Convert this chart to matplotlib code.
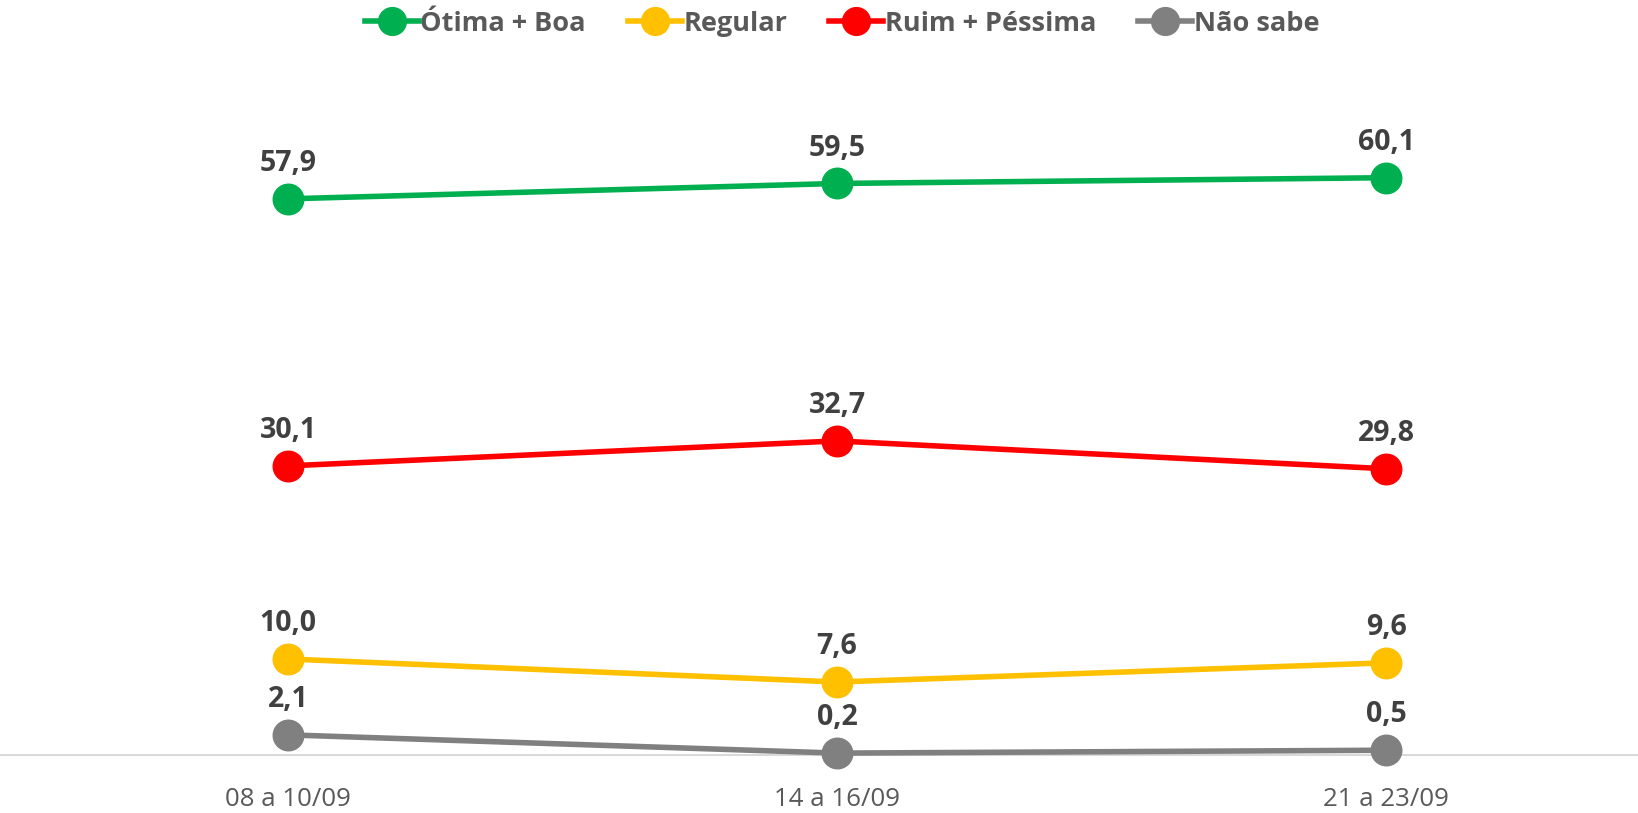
import matplotlib
matplotlib.use("Agg")
import matplotlib.pyplot as plt
from matplotlib.lines import Line2D

plt.rcParams['font.family'] = ['Open Sans', 'DejaVu Sans']

# dados
periodos = ["08 a 10/09", "14 a 16/09", "21 a 23/09"]
otima_boa = [57.9, 59.5, 60.1]
regular = [10.0, 7.6, 9.6]
ruim_pessima = [30.1, 32.7, 29.8]
nao_sabe = [2.1, 0.2, 0.5]

series = [
    ("Ótima + Boa", otima_boa, "#00B050"),
    ("Regular", regular, "#FFC000"),
    ("Ruim + Péssima", ruim_pessima, "#FF0000"),
    ("Não sabe", nao_sabe, "#808080"),
]

fig = plt.figure(figsize=(16.38, 8.13), dpi=100)
ax = fig.add_axes([0, 0.0713, 1, 0.8271])

x = list(range(len(periodos)))
for nome, vals, cor in series:
    ax.plot(x, vals, color=cor, lw=4, marker="o", markersize=22, zorder=3,
            solid_capstyle="round", clip_on=False)
    for xi, v in zip(x, vals):
        ax.annotate(f"{v:.1f}".replace(".", ","), (xi, v), xytext=(0, 15), textcoords="offset points",
                    ha="center", va="bottom", fontsize=20.5, fontweight="bold", color="#404040", zorder=4)

ax.set_xlim(-0.5246, 2.459)
ax.set_ylim(0, 70)
ax.set_xticks(x)
ax.set_xticklabels(periodos, fontsize=18.6, color="#595959")
ax.tick_params(axis="x", length=0, pad=23)
ax.set_yticks([])
for s in ["top", "right", "left"]:
    ax.spines[s].set_visible(False)
ax.spines["bottom"].set_color("#D9D9D9")
ax.spines["bottom"].set_linewidth(1.5)
ax.spines["bottom"].set_zorder(1)

handles = [Line2D([0], [0], color=c, lw=4, marker="o", markersize=20) for _, _, c in series]
leg = fig.legend(handles, [n for n, _, _ in series], loc="upper center", bbox_to_anchor=(0.514, 1.017),
                 ncol=4, frameon=False, handlelength=2.0, handletextpad=0.05, columnspacing=1.55,
                 prop={"size": 19.5, "weight": "bold"})
for t in leg.get_texts():
    t.set_color("#595959")

fig.savefig("out.png", dpi=100)
